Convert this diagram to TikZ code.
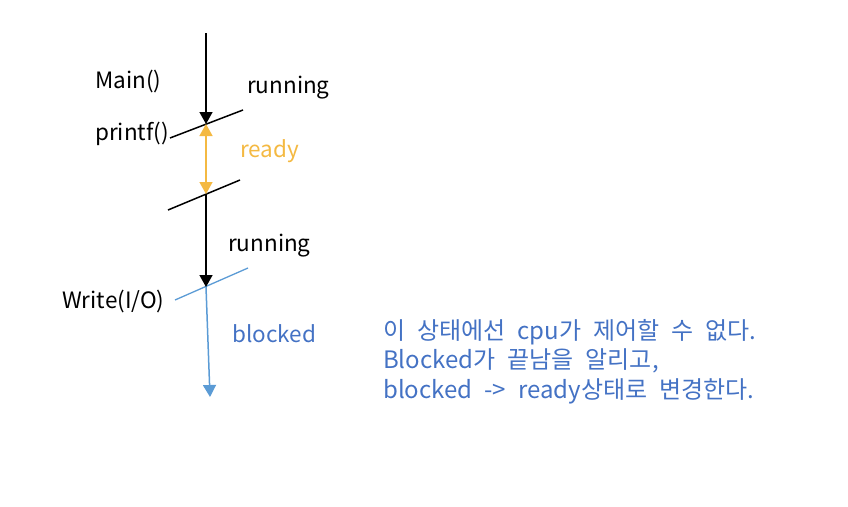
\documentclass[tikz,border=0pt]{standalone}
\usepackage{xcolor}
\usepackage{fontspec}
\setmainfont{Noto Sans CJK KR}
\usepackage{tikz}
\usetikzlibrary{arrows.meta, positioning}

\definecolor{readyc}{HTML}{F4B942}
\definecolor{blockline}{HTML}{5B9BD5}
\definecolor{blocktext}{HTML}{4472C4}
\newcommand{\widegap}{\spaceskip=12pt plus 2pt\relax}

\begin{document}
\begin{tikzpicture}[
  x=1pt, y=-1pt,
  lbl/.style={anchor=base west, inner sep=0pt, font=\fontsize{22.5}{29.5}\selectfont},
  tick/.style={line width=1.5pt},
  arr/.style={-{Triangle[length=12pt, width=13pt]}, line width=1.5pt},
  dbl/.style={{Triangle[length=12pt, width=13pt]}-{Triangle[length=12pt, width=13pt]}, line width=1.5pt, readyc}
]
  \useasboundingbox (0,0) rectangle (848,506);
  % time line points
  \coordinate (top) at (206,33);
  \coordinate (t1) at (206,124);
  \coordinate (t2) at (206,194);
  \coordinate (t3) at (206,287);
  \coordinate (bot) at (210,397);
  % ticks
  \coordinate (p1a) at (170,138);
  \coordinate (p1b) at (243,110);
  \coordinate (p2a) at (168,210);
  \coordinate (p2b) at (240,180);
  \coordinate (p3a) at (175,300);
  \coordinate (p3b) at (248,268);
  \draw[tick] (p1a) -- (p1b);
  \draw[tick] (p2a) -- (p2b);
  \draw[tick, blockline, line width=1.3pt] (p3a) -- (p3b);
  % arrows
  \draw[arr] (top) -- (t1);
  \draw[dbl] (t1) -- (t2);
  \draw[arr] (t2) -- (t3);
  \draw[arr, blockline] (t3) -- (bot);
  % labels
  \node[lbl] (main) at (95,88) {Main()};
  \node[lbl] (run1) at (247,93) {running};
  \node[lbl] (prf) at (95,140) {printf()};
  \node[lbl, text=readyc] (rdy) at (240,157) {ready};
  \node[lbl] (run2) at (228,251) {running};
  \node[lbl] (wr) at (62,308) {Write(I/O)};
  \node[lbl, text=blocktext] (blk) at (232,342) {blocked};
  \node[lbl, text=blocktext, align=left, anchor=north west,
        font=\fontsize{24}{29.5}\selectfont\widegap] (note) at (383,319)
    {이 상태에선 cpu가 제어할 수 없다.\\Blocked가 끝남을 알리고,\\blocked -> ready상태로 변경한다.};
\end{tikzpicture}
\end{document}
